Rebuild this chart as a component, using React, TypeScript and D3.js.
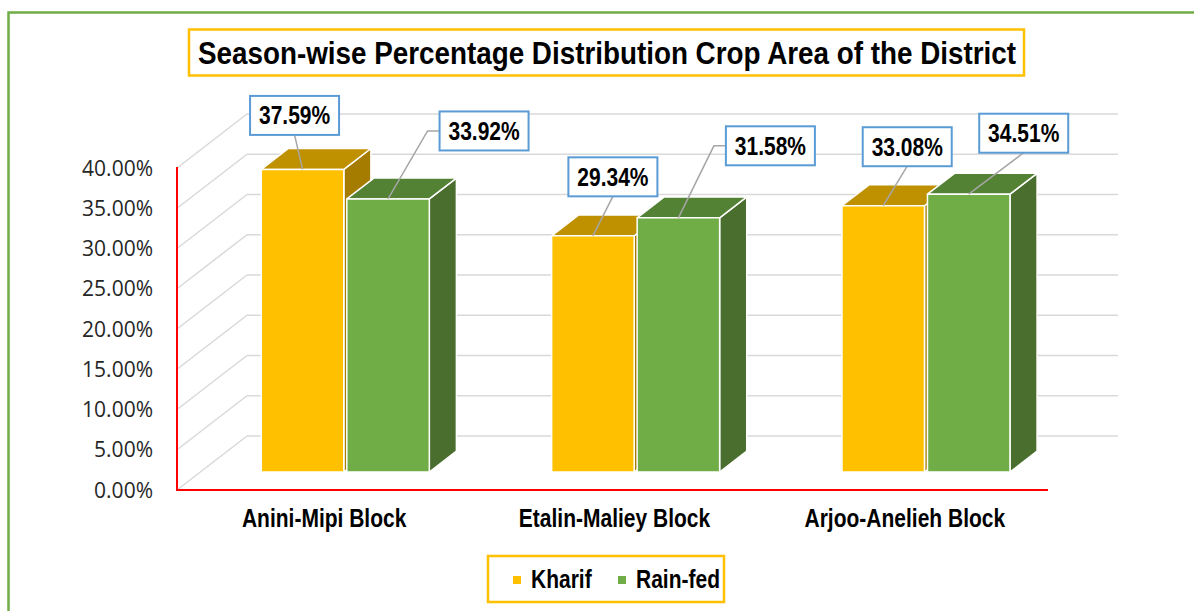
import React from "react";
import * as d3 from "d3";

const categories = ["Anini-Mipi Block", "Etalin-Maliey Block", "Arjoo-Anelieh Block"];
const seriesNames = ["Kharif", "Rain-fed"];
const kharif = [37.59, 29.34, 33.08];
const rainFed = [33.92, 31.58, 34.51];
const yTicks = [0, 5, 10, 15, 20, 25, 30, 35, 40];

// callout box centre, relative to the top front edge of each bar
const kharifLabelOffsets = [[-8, -54], [20, -59], [24, -59]];
const rainFedLabelOffsets = [[96, -68], [92, -72], [55, -61]];

const W = 1194;
const H = 611;
const DX = 70; // full depth of the 3D box
const DY = -54;
const F0 = 0.333; // bar front depth
const F1 = 0.72; // bar back depth

const narrow = "'Liberation Sans', Arial, sans-serif";
const SQ = 0.84; // horizontal squeeze to mimic a narrow face

const colors = {
  Kharif: { front: "#FFC000", top: "#BF9000", side: "#A67C00" },
  "Rain-fed": { front: "#70AD47", top: "#548235", side: "#4A6E2E" },
};

// bold narrow-looking text
const NText = ({ x, y, anchor = "middle", size = 25, children }) => (
  <g transform={`translate(${x},${y}) scale(${SQ},1)`}>
    <text x={0} y={0} textAnchor={anchor} fontFamily={narrow} fontWeight="bold" fontSize={size} fill="#000">
      {children}
    </text>
  </g>
);

const App = () => {
  const y = d3.scaleLinear().domain([0, 40]).range([490, 168]);
  const x = d3.scaleBand().domain(categories).range([177, 1048]);
  const xs = d3.scaleBand().domain(seriesNames).range([61, 229]).paddingInner(0.035);

  const proj = (px, v, f) => [px + DX * f, y(v) + DY * f];
  const poly = pts => pts.map(p => p.join(",")).join(" ");

  const bars = [];
  categories.forEach((c, i) => {
    seriesNames.forEach((s, j) => {
      const val = j === 0 ? kharif[i] : rainFed[i];
      const off = j === 0 ? kharifLabelOffsets[i] : rainFedLabelOffsets[i];
      const x0 = x(c) + xs(s);
      const x1 = x0 + xs.bandwidth();
      bars.push({ c, s, val, off, x0, x1 });
    });
  });

  const boxW = 89;
  const boxH = 39;

  return (
    <svg width={W} height={H} style={{ position: "absolute", left: 0, top: 0, background: "#fff" }}>
      <rect x={8.5} y={12.5} width={1200} height={620} fill="#fff" stroke="#70AD47" strokeWidth={2.5} />

      {/* title */}
      <rect x={189} y={29.5} width={835} height={46} fill="#fff" stroke="#FFC000" strokeWidth={2.5} />
      <text x={607} y={64} textAnchor="middle" fontFamily={narrow} fontWeight="bold" fontSize={31}
        textLength={818} lengthAdjust="spacingAndGlyphs" fill="#000">
        Season-wise Percentage Distribution Crop Area of the District
      </text>

      {/* gridlines: left wall diagonals + back wall */}
      <g stroke="#D9D9D9" strokeWidth={1.5} fill="none">
        {yTicks.map(t => {
          const [bx, by] = proj(177, t, 1);
          return (
            <g key={t}>
              <line x1={177} y1={y(t)} x2={bx} y2={by} />
              <line x1={bx} y1={by} x2={1048 + DX} y2={by} />
            </g>
          );
        })}
      </g>

      {/* y tick labels */}
      <g fontFamily="'Open Sans', sans-serif" fontSize={21} fill="#262626" textAnchor="end">
        {yTicks.map(t => (
          <text key={t} x={153} y={y(t) + 7.5}>{d3.format(".2f")(t) + "%"}</text>
        ))}
      </g>

      {/* 3D bars */}
      {bars.map((b, k) => {
        const col = colors[b.s];
        const front = [proj(b.x0, 0, F0), proj(b.x1, 0, F0), proj(b.x1, b.val, F0), proj(b.x0, b.val, F0)];
        const top = [proj(b.x0, b.val, F0), proj(b.x1, b.val, F0), proj(b.x1, b.val, F1), proj(b.x0, b.val, F1)];
        const side = [proj(b.x1, 0, F0), proj(b.x1, b.val, F0), proj(b.x1, b.val, F1), proj(b.x1, 0, F1)];
        return (
          <g key={k} stroke="#fff" strokeWidth={1.5} strokeLinejoin="round">
            <polygon points={poly(side)} fill={col.side} />
            <polygon points={poly(top)} fill={col.top} />
            <polygon points={poly(front)} fill={col.front} />
          </g>
        );
      })}

      {/* axes */}
      <line x1={177} y1={y(40) - 1} x2={177} y2={y(0)} stroke="#FF0000" strokeWidth={2} />
      <line x1={176} y1={y(0)} x2={1048} y2={y(0)} stroke="#FF0000" strokeWidth={2} />

      {/* category labels */}
      {categories.map(c => (
        <NText key={c} x={x(c) + x.bandwidth() / 2 + 2} y={527}>{c}</NText>
      ))}

      {/* data callouts */}
      {bars.map((b, k) => {
        const [ax, ay] = proj((b.x0 + b.x1) / 2, b.val, F0);
        const cx = ax + b.off[0];
        const cy = ay + b.off[1];
        const left = cx - boxW / 2;
        const sideLead = ax < left - 25;
        const lead = sideLead
          ? `M${ax},${ay}L${left - 12},${cy}L${left},${cy}`
          : `M${ax},${ay}L${cx},${cy + boxH / 2}`;
        return (
          <g key={k}>
            <path d={lead} stroke="#A6A6A6" strokeWidth={1.5} fill="none" />
            <rect x={left} y={cy - boxH / 2} width={boxW} height={boxH} fill="#fff" stroke="#5B9BD5" strokeWidth={2} />
            <NText x={cx} y={cy + 9}>{d3.format(".2f")(b.val) + "%"}</NText>
          </g>
        );
      })}

      {/* legend */}
      <rect x={488} y={556} width={236} height={46} fill="#fff" stroke="#FFC000" strokeWidth={2.5} />
      {seriesNames.map((s, i) => {
        const lx = i === 0 ? 513 : 618;
        return (
          <g key={s}>
            <rect x={lx} y={576} width={8} height={8} fill={colors[s].front} />
            <NText x={lx + 18} y={588} anchor="start">{s}</NText>
          </g>
        );
      })}
    </svg>
  );
};

export default App;
